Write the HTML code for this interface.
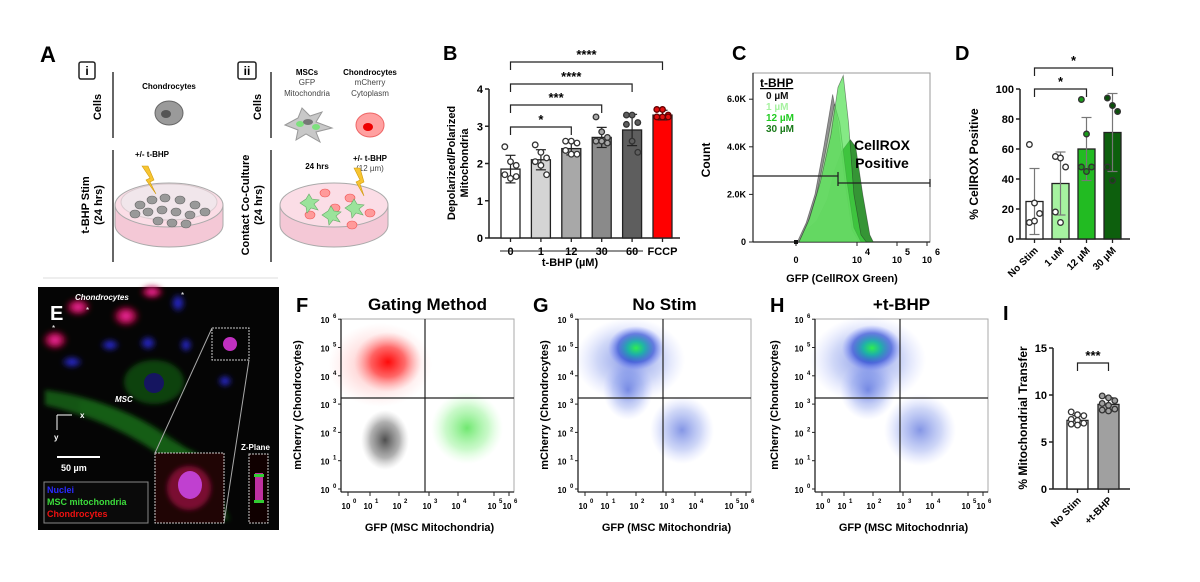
<!DOCTYPE html>
<html><head><meta charset="utf-8">
<style>
html,body{margin:0;padding:0;background:#fff;}
svg{display:block;font-family:"Liberation Sans",Arial,sans-serif;}
.b{font-weight:bold;}
</style></head>
<body>
<svg id="fig" width="1200" height="582" viewBox="0 0 1200 582" xmlns="http://www.w3.org/2000/svg">
<defs>
  <radialGradient id="gRed"><stop offset="0" stop-color="#ff0000" stop-opacity="0.95"/><stop offset="0.5" stop-color="#ff2020" stop-opacity="0.6"/><stop offset="1" stop-color="#ff8080" stop-opacity="0"/></radialGradient>
  <radialGradient id="gRedWide"><stop offset="0" stop-color="#ff4040" stop-opacity="0.45"/><stop offset="1" stop-color="#ff9090" stop-opacity="0"/></radialGradient>
  <radialGradient id="gBlk"><stop offset="0" stop-color="#303030" stop-opacity="0.85"/><stop offset="0.6" stop-color="#505050" stop-opacity="0.45"/><stop offset="1" stop-color="#999" stop-opacity="0"/></radialGradient>
  <radialGradient id="gGrn"><stop offset="0" stop-color="#33dd33" stop-opacity="0.7"/><stop offset="0.6" stop-color="#66ee66" stop-opacity="0.35"/><stop offset="1" stop-color="#aaffaa" stop-opacity="0"/></radialGradient>
  <radialGradient id="gDens"><stop offset="0" stop-color="#30ee50"/><stop offset="0.3" stop-color="#10b0a0" stop-opacity="0.9"/><stop offset="0.65" stop-color="#2040d0" stop-opacity="0.6"/><stop offset="1" stop-color="#6070ff" stop-opacity="0"/></radialGradient>
  <radialGradient id="gBlue"><stop offset="0" stop-color="#2040d0" stop-opacity="0.55"/><stop offset="0.6" stop-color="#4060e0" stop-opacity="0.25"/><stop offset="1" stop-color="#8090ff" stop-opacity="0"/></radialGradient>
  <radialGradient id="gMag"><stop offset="0" stop-color="#ff30b0"/><stop offset="0.5" stop-color="#d01060" stop-opacity="0.8"/><stop offset="1" stop-color="#800000" stop-opacity="0"/></radialGradient>
  <radialGradient id="gNuc"><stop offset="0" stop-color="#3030ff"/><stop offset="1" stop-color="#2020a0" stop-opacity="0.3"/></radialGradient>
  <filter id="blur2"><feGaussianBlur stdDeviation="2.5"/></filter>
</defs>

<!-- ================= Panel A ================= -->
<g>
  <text x="40" y="62" font-size="22" class="b">A</text>
  <rect x="79" y="62" width="16" height="17" rx="2" fill="none" stroke="#222" stroke-width="1.5"/>
  <text x="87" y="75" font-size="12" class="b" text-anchor="middle">i</text>
  <rect x="238" y="62" width="18" height="17" rx="2" fill="none" stroke="#222" stroke-width="1.5"/>
  <text x="247" y="75" font-size="12" class="b" text-anchor="middle">ii</text>
  <line x1="113" y1="72" x2="113" y2="138" stroke="#333" stroke-width="1.5"/>
  <line x1="113" y1="150" x2="113" y2="262" stroke="#333" stroke-width="1.5"/>
  <line x1="271" y1="72" x2="271" y2="138" stroke="#333" stroke-width="1.5"/>
  <line x1="271" y1="150" x2="271" y2="262" stroke="#333" stroke-width="1.5"/>
  <text transform="translate(101,107) rotate(-90)" font-size="11" class="b" text-anchor="middle">Cells</text>
  <text transform="translate(261,107) rotate(-90)" font-size="11" class="b" text-anchor="middle">Cells</text>
  <text transform="translate(89,205) rotate(-90)" font-size="11" class="b" text-anchor="middle">t-BHP Stim</text>
  <text transform="translate(102,205) rotate(-90)" font-size="11" class="b" text-anchor="middle">(24 hrs)</text>
  <text transform="translate(249,205) rotate(-90)" font-size="11" class="b" text-anchor="middle">Contact Co-Culture</text>
  <text transform="translate(262,205) rotate(-90)" font-size="11" class="b" text-anchor="middle">(24 hrs)</text>
  <text x="169" y="89" font-size="8" class="b" text-anchor="middle">Chondrocytes</text>
  <ellipse cx="169" cy="113" rx="14" ry="12" fill="#9a9a9a" stroke="#666"/>
  <ellipse cx="166" cy="114" rx="5" ry="4" fill="#555"/>
  <text x="307" y="75" font-size="8" class="b" text-anchor="middle">MSCs</text>
  <text x="307" y="85" font-size="8" fill="#444" text-anchor="middle">GFP</text>
  <text x="307" y="96" font-size="8" fill="#444" text-anchor="middle">Mitochondria</text>
  <text x="370" y="75" font-size="8" class="b" text-anchor="middle">Chondrocytes</text>
  <text x="370" y="85" font-size="8" fill="#444" text-anchor="middle">mCherry</text>
  <text x="370" y="96" font-size="8" fill="#444" text-anchor="middle">Cytoplasm</text>
  <path d="M285,125 L298,118 L302,108 L310,116 L322,112 L316,122 L332,128 L316,132 L320,142 L306,134 L296,140 L298,130 Z" fill="#c8c8c8" stroke="#999"/>
  <ellipse cx="300" cy="124" rx="4" ry="3" fill="#7de07d"/><ellipse cx="316" cy="127" rx="4" ry="3" fill="#7de07d"/>
  <ellipse cx="308" cy="122" rx="5" ry="3" fill="#777"/>
  <ellipse cx="370" cy="125" rx="14" ry="12" fill="#ffa0a0" stroke="#e66"/>
  <ellipse cx="368" cy="127" rx="5" ry="4" fill="#e00"/>
  <text x="152" y="157" font-size="8" class="b" text-anchor="middle">+/- t-BHP</text>
  <text x="317" y="169" font-size="8" class="b" text-anchor="middle">24 hrs</text>
  <text x="370" y="161" font-size="8" class="b" text-anchor="middle">+/- t-BHP</text>
  <text x="370" y="171" font-size="8" fill="#444" text-anchor="middle">(12 µm)</text>
  <path d="M115,205 L115,225 A54,22 0 0 0 223,225 L223,205" fill="#f4c8d6" stroke="#aaa"/>
  <ellipse cx="169" cy="205" rx="54" ry="22" fill="#fbdde6" stroke="#aaa"/>
  <ellipse cx="169" cy="202" rx="48" ry="18" fill="#e8f0f0" stroke="#bbb" opacity="0.5"/>
  <g fill="#999" stroke="#666" stroke-width="0.6">
    <ellipse cx="140" cy="205" rx="5" ry="4"/><ellipse cx="152" cy="200" rx="5" ry="4"/><ellipse cx="165" cy="198" rx="5" ry="4"/>
    <ellipse cx="180" cy="200" rx="5" ry="4"/><ellipse cx="195" cy="205" rx="5" ry="4"/><ellipse cx="148" cy="212" rx="5" ry="4"/>
    <ellipse cx="162" cy="210" rx="5" ry="4"/><ellipse cx="176" cy="212" rx="5" ry="4"/><ellipse cx="190" cy="215" rx="5" ry="4"/>
    <ellipse cx="158" cy="221" rx="5" ry="4"/><ellipse cx="172" cy="223" rx="5" ry="4"/><ellipse cx="186" cy="224" rx="5" ry="4"/>
    <ellipse cx="205" cy="212" rx="5" ry="4"/><ellipse cx="135" cy="214" rx="5" ry="4"/>
  </g>
  <path d="M142,166 L150,178 L146,180 L156,194 L150,182 L154,180 L148,166 Z" fill="#f7c531" stroke="#d09a10" stroke-width="0.6"/>
  <path d="M280,205 L280,225 A54,22 0 0 0 388,225 L388,205" fill="#f4c8d6" stroke="#aaa"/>
  <ellipse cx="334" cy="205" rx="54" ry="22" fill="#fbdde6" stroke="#aaa"/>
  <g fill="#ff9a9a" stroke="#e55" stroke-width="0.6">
    <ellipse cx="325" cy="193" rx="5" ry="4"/><ellipse cx="350" cy="198" rx="5" ry="4"/><ellipse cx="335" cy="208" rx="5" ry="4"/>
    <ellipse cx="310" cy="215" rx="5" ry="4"/><ellipse cx="370" cy="213" rx="5" ry="4"/><ellipse cx="352" cy="225" rx="5" ry="4"/>
  </g>
  <g fill="#9be39b" stroke="#6a6" stroke-width="0.6">
    <path d="M300,203 l6,-4 l3,-5 l3,5 l7,1 l-5,4 l4,6 l-7,-2 l-4,5 l-1,-6 z"/>
    <path d="M322,215 l6,-4 l3,-5 l3,5 l7,1 l-5,4 l4,6 l-7,-2 l-4,5 l-1,-6 z"/>
    <path d="M345,208 l6,-4 l3,-5 l3,5 l7,1 l-5,4 l4,6 l-7,-2 l-4,5 l-1,-6 z"/>
  </g>
  <path d="M354,168 L360,180 L356,182 L364,196 L360,184 L364,182 L360,168 Z" fill="#f7c531" stroke="#d09a10" stroke-width="0.6"/>
  <line x1="43" y1="278" x2="278" y2="278" stroke="#ddd" stroke-width="1"/>
</g>

<!-- ================= Panel E ================= -->
<g>
  <rect x="38" y="287" width="241" height="243" fill="#050505"/>
  <g filter="url(#blur2)">
    <ellipse cx="78" cy="307" rx="14" ry="10" fill="url(#gMag)"/>
    <ellipse cx="152" cy="292" rx="13" ry="8" fill="url(#gMag)"/>
    <ellipse cx="126" cy="316" rx="15" ry="12" fill="url(#gMag)"/>
    <ellipse cx="55" cy="340" rx="14" ry="11" fill="url(#gMag)"/>
    <ellipse cx="178" cy="303" rx="7" ry="9" fill="url(#gNuc)"/>
    <ellipse cx="110" cy="345" rx="9" ry="6" fill="url(#gNuc)"/>
    <ellipse cx="148" cy="343" rx="8" ry="7" fill="url(#gNuc)"/>
    <ellipse cx="186" cy="345" rx="6" ry="7" fill="url(#gNuc)"/>
    <ellipse cx="72" cy="362" rx="10" ry="6" fill="url(#gNuc)"/>
    <ellipse cx="225" cy="381" rx="7" ry="6" fill="url(#gNuc)"/>
    <ellipse cx="154" cy="382" rx="30" ry="22" fill="#146a14" opacity="0.6"/>
    <path d="M45,390 Q120,400 170,440 L200,455 L160,455 Q110,420 45,405 Z" fill="#1a8a1a" opacity="0.6"/>
    <path d="M80,400 Q150,410 210,470 L230,520 L215,520 Q170,440 80,412 Z" fill="#126612" opacity="0.5"/>
  </g>
  <ellipse cx="154" cy="383" rx="10" ry="10" fill="#151560"/>
  <text x="50" y="320" font-size="20" class="b" fill="#fff">E</text>
  <text x="75" y="300" font-size="8" class="b" font-style="italic" fill="#fff">Chondrocytes</text>
  <text x="115" y="402" font-size="8" class="b" font-style="italic" fill="#fff">MSC</text>
  <text x="181" y="298" font-size="8" fill="#fff">*</text><text x="86" y="313" font-size="8" fill="#fff">*</text><text x="52" y="331" font-size="8" fill="#fff">*</text>
  <rect x="212" y="328" width="37" height="32" fill="none" stroke="#ccc" stroke-dasharray="2,1"/>
  <ellipse cx="230" cy="344" rx="7" ry="7" fill="#c030c0"/>
  <line x1="212" y1="328" x2="155" y2="453" stroke="#aaa"/><line x1="249" y1="360" x2="224" y2="523" stroke="#aaa"/>
  <rect x="155" y="453" width="69" height="70" fill="#200505" stroke="#ccc" stroke-dasharray="2,1"/>
  <ellipse cx="189" cy="488" rx="22" ry="22" fill="#7a1030" filter="url(#blur2)"/>
  <ellipse cx="190" cy="485" rx="12" ry="14" fill="#c040d0"/>
  <rect x="249" y="454" width="19" height="69" fill="#100000" stroke="#ccc" stroke-dasharray="2,1"/>
  <rect x="255" y="473" width="8" height="28" fill="#c030a0"/>
  <rect x="254" y="474" width="10" height="3" fill="#3c3"/><rect x="254" y="500" width="10" height="3" fill="#3c3"/>
  <text x="241" y="450" font-size="8" class="b" fill="#fff">Z-Plane</text>
  <line x1="57" y1="415" x2="72" y2="415" stroke="#fff"/><line x1="57" y1="415" x2="57" y2="430" stroke="#fff"/>
  <text x="80" y="418" font-size="8" class="b" fill="#fff">x</text><text x="54" y="440" font-size="8" class="b" fill="#fff">y</text>
  <line x1="57" y1="457" x2="100" y2="457" stroke="#fff" stroke-width="2"/>
  <text x="61" y="471" font-size="9" class="b" fill="#fff">50 µm</text>
  <rect x="44" y="482" width="104" height="41" fill="#0a0a0a" stroke="#888"/>
  <text x="47" y="493" font-size="9" class="b" fill="#2a2aff">Nuclei</text>
  <text x="47" y="505" font-size="9" class="b" fill="#3cdc3c">MSC mitochondria</text>
  <text x="47" y="517" font-size="9" class="b" fill="#ee1111">Chondrocytes</text>
</g>

<g id="charts"></g>
</svg>

<script>
// ===== Panel B data =====
const bCategories = ["0","1","12","30","60","FCCP"];
const bMeans = [1.85, 2.1, 2.4, 2.7, 2.9, 3.3];
const bErrors = [0.37, 0.27, 0.17, 0.27, 0.42, 0.13];
const bPoints = [[2.45,2.05,1.95,1.7,1.6,1.65],[2.5,2.3,2.15,2.05,1.95,1.7],[2.6,2.6,2.55,2.35,2.25,2.25],[3.25,2.85,2.7,2.6,2.6,2.55],[3.3,3.3,3.1,3.05,2.6,2.3],[3.45,3.45,3.3,3.25,3.25,3.25]];
const bYTicks = [0,1,2,3,4];
const bSig = [["*",0,2],["***",0,3],["****",0,4],["****",0,5]];
// ===== Panel D data =====
const dCategories = ["No Stim","1 uM","12 µM","30 µM"];
const dMeans = [25, 37, 60, 71];
const dErrors = [22, 21, 21, 26];
const dPoints = [[63,24,17,11,12],[55,54,48,18,11],[93,70,48,48,45],[94,89,85,48,39]];
const dYTicks = [0,20,40,60,80,100];
const dSig = [["*",0,2],["*",0,3]];
// ===== Panel I data =====
const iCategories = ["No Stim","+t-BHP"];
const iMeans = [7.3, 9.0];
const iErrors = [0.5, 0.7];
const iPoints = [[8.2,7.9,7.8,7.4,7.3,7.0,6.9,6.8],[9.9,9.7,9.4,9.1,8.9,8.5,8.4,8.3]];
const iYTicks = [0,5,10,15];
// ===== Panel C data (channel 0-100, count in K) =====
const cYTicks = [0,2,4,6];
const cYTickLabels = ["0","2.0K","4.0K","6.0K"];
const cSeries0 = [[25,0],[30,0.8],[35,2.0],[40,4.0],[45,6.2],[48,5.0],[52,2.5],[56,0.5],[60,0]];
const cSeries1 = [[26,0],[31,0.8],[36,2.0],[41,3.8],[46,5.8],[49,5.0],[53,2.6],[57,0.6],[61,0]];
const cSeries12 = [[26,0],[32,1.0],[38,2.5],[44,4.5],[48,6.5],[51,7.0],[54,5.0],[57,2.0],[61,0.3],[64,0]];
const cSeries30 = [[26,0],[30,0.5],[36,0.9],[42,1.8],[46,3.0],[50,3.8],[55,4.3],[58,4.0],[62,2.0],[66,0.3],[68,0]];
const cLegend = ["0 µM","1 µM","12 µM","30 µM"];

const NS="http://www.w3.org/2000/svg";
const root=document.getElementById('charts');
function mk(tag,attrs,parent){const e=document.createElementNS(NS,tag);for(const k in attrs)e.setAttribute(k,attrs[k]);(parent||root).appendChild(e);return e;}
function txt(x,y,s,size,opts,parent){const t=mk('text',Object.assign({x:x,y:y,'font-size':size},opts||{}),parent);t.textContent=s;return t;}

function barChart(cfg){
  const g=mk('g',{});
  
  
  const y=v=>cfg.y0-(v-cfg.ymin)/(cfg.ymax-cfg.ymin)*(cfg.y0-cfg.y1);
  const x=i=>cfg.x0+i*cfg.step;
  const ya=mk('line',{x1:cfg.ax,y1:y(cfg.ymax),x2:cfg.ax,y2:cfg.y0,stroke:'#222','stroke-width':1.5},g);
  
  
  const xa=mk('line',{x1:cfg.ax,y1:cfg.y0,x2:cfg.axEnd,y2:cfg.y0,stroke:'#222','stroke-width':1.5},g);
  
  
  cfg.yticks.forEach(t=>{
    mk('line',{x1:cfg.ax-4,y1:y(t),x2:cfg.ax,y2:y(t),stroke:'#222','stroke-width':1.5},g);
    const l=txt(cfg.ax-6,y(t)+4,String(t),11,{'text-anchor':'end','font-weight':'bold'},g);
    
    
  });
  cfg.means.forEach((m,i)=>{
    const cx=x(i);
    const r=mk('rect',{x:cx-cfg.bw/2,y:y(m),width:cfg.bw,height:cfg.y0-y(m),fill:cfg.colors[i],stroke:'#222','stroke-width':1.3},g);
    
    
    const e=cfg.errs[i];
    mk('line',{x1:cx,y1:y(m-e),x2:cx,y2:y(m+e),stroke:cfg.errColor||'#222','stroke-width':1.2},g);
    mk('line',{x1:cx-5,y1:y(m+e),x2:cx+5,y2:y(m+e),stroke:cfg.errColor||'#222','stroke-width':1.2},g);
    mk('line',{x1:cx-5,y1:y(m-e),x2:cx+5,y2:y(m-e),stroke:cfg.errColor||'#222','stroke-width':1.2},g);
    mk('line',{x1:cx,y1:cfg.y0,x2:cx,y2:cfg.y0+4,stroke:'#222','stroke-width':1.3},g);
    const pts=cfg.points[i];
    pts.forEach((p,j)=>{
      const off=((j%3)-1)*cfg.bw*0.3;
      const c=mk('circle',{cx:cx+off,cy:y(p),r:2.8,fill:cfg.dotFill[i],stroke:cfg.dotStroke[i],'stroke-width':1.3},g);
      
      
    });
    if(cfg.rotLabels){
      const t=txt(0,0,cfg.cats[i],10,{'text-anchor':'end','font-weight':'bold',transform:`translate(${cx+4},${cfg.y0+12}) rotate(-45)`},g);
      
      
    } else {
      const t=txt(cx,cfg.y0+17,cfg.cats[i],11,{'text-anchor':'middle','font-weight':'bold'},g);
      
      
    }
  });
  (cfg.sig||[]).forEach((s,k)=>{
    const yy=cfg.sigY[k];
    const a=x(s[1]),b=x(s[2]);
    const p=mk('path',{d:`M${a},${yy+8} L${a},${yy} L${b},${yy} L${b},${yy+8}`,fill:'none',stroke:'#222','stroke-width':1.2},g);
    
    
    txt((a+b)/2,yy-3,s[0],13,{'text-anchor':'middle','font-weight':'bold'},g);
  });
  return g;
}

// Panel B
txt(443,60,"B",20,{'font-weight':'bold'});
barChart({name:'panel-b-bar-chart',ax:489,axEnd:680,y0:238,y1:89,ymin:0,ymax:4,x0:510.5,step:30.4,bw:19,
  cats:bCategories,means:bMeans,errs:bErrors,points:bPoints,yticks:bYTicks,
  colors:['#ffffff','#d4d4d4','#a8a8a8','#8a8a8a','#5e5e5e','#ff0000'],
  dotFill:['#fff','#fff','#fff','#a8a8a8','#5e5e5e','#e01010'],dotStroke:['#333','#333','#333','#333','#333','#660000'],
  sig:bSig,sigY:[127,105,84,62]});
txt(0,0,"Depolarized/Polarized",11,{'font-weight':'bold','text-anchor':'middle',transform:'translate(455,163) rotate(-90)'});
txt(0,0,"Mitochondria",11,{'font-weight':'bold','text-anchor':'middle',transform:'translate(468,163) rotate(-90)'});
mk('line',{x1:500,y1:251,x2:643,y2:251,stroke:'#222','stroke-width':1});
txt(570,266,"t-BHP (µM)",11,{'text-anchor':'middle','font-weight':'bold'});

// Panel D
txt(955,60,"D",20,{'font-weight':'bold'});
barChart({name:'panel-d-bar-chart',ax:1020,axEnd:1130,y0:239,y1:89,ymin:0,ymax:100,x0:1034.5,step:26,bw:17,
  cats:dCategories,means:dMeans,errs:dErrors,points:dPoints,yticks:dYTicks,rotLabels:true,errColor:'#777',
  colors:['#ffffff','#a6f2a0','#22bb22','#0d5f0d'],
  dotFill:['#fff','#fff','#1a9a1a','#0a500a'],dotStroke:['#333','#333','#333','#333'],
  sig:dSig,sigY:[89,68]});
txt(0,0,"% CellROX Positive",12,{'font-weight':'bold','text-anchor':'middle',transform:'translate(978,164) rotate(-90)'});

// Panel I
txt(1003,320,"I",20,{'font-weight':'bold'});
barChart({name:'panel-i-bar-chart',ax:1053,axEnd:1130,y0:489,y1:348,ymin:0,ymax:15,x0:1077.5,step:31,bw:21,
  cats:iCategories,means:iMeans,errs:iErrors,points:iPoints,yticks:iYTicks,rotLabels:true,
  colors:['#ffffff','#a0a0a0'],dotFill:['#fff','#a0a0a0'],dotStroke:['#333','#333'],
  sig:[["***",0,1]],sigY:[363]});
txt(0,0,"% Mitochondrial Transfer",12,{'font-weight':'bold','text-anchor':'middle',transform:'translate(1027,418) rotate(-90)'});

// Panel C histogram
(function(){
  const g=mk('g',{});
  
  
  const L=753,R=930,T=73,B=242;
  const x=c=>L+c*(R-L)/100;
  const y=k=>B-k*23.8;
  txt(732,60,"C",20,{'font-weight':'bold'},g);
  const fr=mk('rect',{x:L,y:T,width:R-L,height:B-T,fill:'none',stroke:'#999','stroke-width':1},g);
  
  
  mk('line',{x1:L,y1:T,x2:L,y2:B,stroke:'#222','stroke-width':1.2},g);
  mk('line',{x1:L,y1:B,x2:R,y2:B,stroke:'#222','stroke-width':1.2},g);
  cYTicks.forEach((t,i)=>{
    mk('line',{x1:L-4,y1:y(t),x2:L,y2:y(t),stroke:'#222'},g);
    txt(L-7,y(t)+3,cYTickLabels[i],9,{'text-anchor':'end','font-weight':'bold'},g);
  });
  const series=[[cSeries30,'#1f8a1f',0.9,'series-30uM'],[cSeries0,'#777777',0.8,'series-0uM'],[cSeries1,'#b8f0b0',0.7,'series-1uM'],[cSeries12,'#44dd44',0.65,'series-12uM']];
  series.forEach(s=>{
    let d='M'+x(s[0][0][0])+','+y(0);
    s[0].forEach(p=>{d+=' L'+x(p[0])+','+y(p[1]);});
    d+=' Z';
    const p=mk('path',{d:d,fill:s[1],'fill-opacity':s[2],stroke:'#222','stroke-width':0.7,'stroke-opacity':0.5},g);
    
    
  });
  const gate=mk('path',{d:`M${L},176 L838,176 M838,172 L838,186 M838,183 L${R},183 M${R},179 L${R},187`,fill:'none',stroke:'#222','stroke-width':1.3},g);
  
  
  txt(882,150,"CellROX",14,{'text-anchor':'middle','font-weight':'bold'},g);
  txt(882,168,"Positive",14,{'text-anchor':'middle','font-weight':'bold'},g);
  txt(760,87,"t-BHP",12,{'font-weight':'bold','text-decoration':'underline'},g);
  const lc=['#111','#a6f2a0','#22cc22','#1a7a1a'];
  cLegend.forEach((s,i)=>{const t=txt(766,99+i*11,s,10,{'font-weight':'bold',fill:lc[i]},g);});
  [[796,"0"],[857,"10"],[897,"10"],[927,"10"]].forEach((t,i)=>{
    mk('line',{x1:t[0],y1:B,x2:t[0],y2:B+4,stroke:'#222'},g);
    txt(t[0],B+21,t[1],9,{'text-anchor':'middle','font-weight':'bold'},g);
    if(i>0) txt(t[0]+8,B+13,String(i+3),9,{'font-weight':'bold'},g);
  });
  mk('rect',{x:794,y:B-2,width:4,height:4,fill:'#111'},g);
  txt(0,0,"Count",12,{'font-weight':'bold','text-anchor':'middle',transform:'translate(710,160) rotate(-90)'},g);
  txt(842,282,"GFP (CellROX Green)",11,{'font-weight':'bold','text-anchor':'middle'},g);
})();

// Flow scatter panels
function flowPanel(name,letter,title,L,qx,clouds,xlabel,ylabelX){
  const g=mk('g',{});
  
  
  const T=319,B=492,R=L+173;
  txt(L-45,312,letter,20,{'font-weight':'bold'},g);
  txt((L+R)/2,310,title,17,{'font-weight':'bold','text-anchor':'middle'},g);
  mk('rect',{x:L,y:T,width:R-L,height:B-T,fill:'#fff',stroke:'#aaa'},g);
  clouds.forEach(c=>{
    const e=mk('ellipse',{cx:c[0],cy:c[1],rx:c[2],ry:c[3],fill:c[4]},g);
    
    
  });
  mk('line',{x1:L,y1:T,x2:L,y2:B,stroke:'#222','stroke-width':1.3},g);
  mk('line',{x1:L,y1:B,x2:R,y2:B,stroke:'#222','stroke-width':1.3},g);
  const q1=mk('line',{x1:qx,y1:T,x2:qx,y2:B,stroke:'#222','stroke-width':1.2},g);
  
  
  const q2=mk('line',{x1:L,y1:398,x2:R,y2:398,stroke:'#222','stroke-width':1.2},g);
  
  
  for(let k=0;k<=6;k++){
    const yy=489-k*28.3;
    mk('line',{x1:L-3,y1:yy,x2:L,y2:yy,stroke:'#222'},g);
    txt(L-16,yy+4,"10",8,{'font-weight':'bold','text-anchor':'middle'},g);
    txt(L-8,yy-1,String(k),6,{'font-weight':'bold'},g);
  }
  const xs=[7,29,58,88,117,153,168];
  xs.forEach((d,k)=>{
    mk('line',{x1:L+d,y1:B,x2:L+d,y2:B+4,stroke:'#222'},g);
    txt(L+d-2,B+17,"10",8,{'font-weight':'bold','text-anchor':'middle'},g);
    txt(L+d+5,B+11,String(k),6,{'font-weight':'bold'},g);
  });
  txt((L+R)/2+2,531,xlabel,11,{'font-weight':'bold','text-anchor':'middle'},g);
  txt(0,0,"mCherry (Chondrocytes)",11,{'font-weight':'bold','text-anchor':'middle',transform:`translate(${ylabelX},405) rotate(-90)`},g);
}
flowPanel('panel-f-gating-scatter','F','Gating Method',341,425,
  [[380,365,52,42,'url(#gRedWide)'],[388,362,34,30,'url(#gRed)'],[385,440,24,30,'url(#gBlk)'],[467,428,36,36,'url(#gGrn)']],
  'GFP (MSC Mitochondria)',301);
flowPanel('panel-g-nostim-scatter','G','No Stim',578,663,
  [[630,360,55,42,'url(#gBlue)'],[628,390,25,30,'url(#gBlue)'],[682,430,32,34,'url(#gBlue)'],[636,348,28,22,'url(#gDens)']],
  'GFP (MSC Mitochondria)',548);
flowPanel('panel-h-tbhp-scatter','H','+t-BHP',815,900,
  [[868,360,58,44,'url(#gBlue)'],[868,390,28,30,'url(#gBlue)'],[920,430,36,36,'url(#gBlue)'],[872,348,30,23,'url(#gDens)']],
  'GFP (MSC Mitochodnria)',778);
</script>
</body></html>
